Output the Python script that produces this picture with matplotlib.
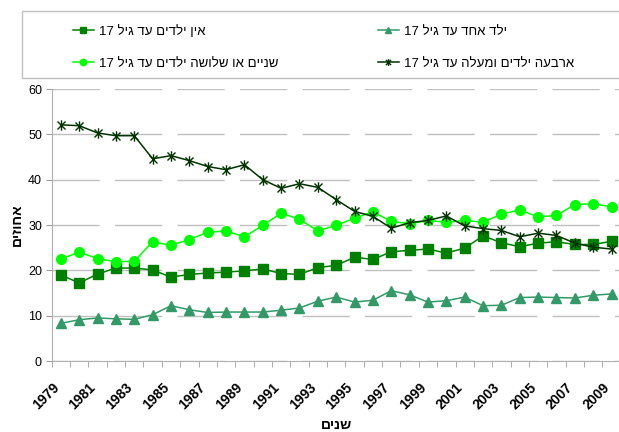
import re
import matplotlib
matplotlib.use('Agg')
import matplotlib.pyplot as plt
import matplotlib.transforms as mtransforms
from matplotlib.path import Path
from matplotlib.patches import Rectangle
from matplotlib.ticker import FixedLocator

plt.rcParams['font.family'] = ['Liberation Sans', 'DejaVu Sans']


def heb(s):
    # matplotlib has no bidi support: flip to visual order, keep numbers readable
    r = s[::-1]
    return re.sub(r'\d+', lambda m: m.group(0)[::-1], r)


years = list(range(1979, 2010))

no_children = [19.0, 17.2, 19.2, 20.5, 20.5, 20.1, 18.5, 19.1, 19.4, 19.6,
               19.9, 20.3, 19.3, 19.1, 20.6, 21.1, 22.9, 22.4, 24.1, 24.4,
               24.7, 23.8, 24.9, 27.6, 26.1, 25.2, 26.0, 26.3, 25.7, 25.7, 26.4]
one_child = [8.3, 9.1, 9.5, 9.3, 9.2, 10.2, 12.2, 11.3, 10.7, 10.8,
             10.8, 10.8, 11.2, 11.7, 13.2, 14.1, 13.0, 13.4, 15.5, 14.6,
             13.0, 13.3, 14.1, 12.2, 12.3, 14.0, 14.1, 14.0, 13.9, 14.5, 14.8]
two_three = [22.5, 24.0, 22.6, 21.9, 22.0, 26.3, 25.5, 26.8, 28.4, 28.7,
             27.4, 29.9, 32.6, 31.3, 28.7, 29.9, 31.5, 32.9, 30.8, 30.3,
             31.0, 30.6, 31.0, 30.6, 32.4, 33.3, 31.8, 32.1, 34.5, 34.7, 34.0]
four_plus = [52.1, 51.9, 50.3, 49.7, 49.7, 44.6, 45.3, 44.2, 42.9, 42.2,
             43.3, 40.0, 38.1, 39.1, 38.3, 35.6, 33.0, 31.9, 29.3, 30.5,
             31.0, 32.0, 29.8, 29.2, 28.8, 27.4, 28.2, 27.7, 26.0, 25.1, 24.7]

labels = {
    'no': heb('אין ילדים עד גיל 17'),
    'one': heb('ילד אחד עד גיל 17'),
    'two': heb('שניים או שלושה ילדים עד גיל 17'),
    'four': heb('ארבעה ילדים ומעלה עד גיל 17'),
}

# Excel style star: X with a vertical bar
star = Path([(-1, -1), (1, 1), (-1, 1), (1, -1), (0, -1.3), (0, 1.3)],
            [Path.MOVETO, Path.LINETO, Path.MOVETO, Path.LINETO, Path.MOVETO, Path.LINETO])

fig = plt.figure(figsize=(6.19, 4.32), dpi=100)
ax = fig.add_axes([51.7 / 619, 1 - 361 / 432, 569 / 619, 272 / 432])

x = list(range(len(years)))
l_no, = ax.plot(x, no_children, '-', marker='s', color='#008000', ms=7, lw=1.1, label=labels['no'])
l_one, = ax.plot(x, one_child, '-', marker='^', color='#339966', ms=7, lw=1.1, label=labels['one'])
l_two, = ax.plot(x, two_three, '-', marker='o', color='#00FF00', ms=7, lw=1.1, label=labels['two'])
l_four, = ax.plot(x, four_plus, '-', marker=star, color='#003300', ms=7.5, mew=1.0, lw=1.1,
                  label=labels['four'])

ax.set_xlim(-0.5, len(years) - 0.5)
ax.set_ylim(0, 60)
ax.set_yticks(range(0, 61, 10))
ax.yaxis.grid(True, color='#C0C0C0', lw=1, dashes=(34, 11))
ax.set_axisbelow(True)

# category ticks between the points, year labels every other year
ax.set_xticks([])
ax.xaxis.set_minor_locator(FixedLocator([i - 0.5 for i in range(len(years) + 1)]))
ax.tick_params(axis='x', which='minor', length=4, color='#A0A0A0')
ax.tick_params(axis='y', length=4, color='#A0A0A0', labelsize=9, pad=3)
shift = mtransforms.ScaledTranslation(-9 / 100, -19 / 100, fig.dpi_scale_trans)
for i in x[::2]:
    ax.text(i, 0, str(years[i]), transform=ax.get_xaxis_transform() + shift,
            rotation=45, ha='right', va='top', rotation_mode='anchor',
            fontweight='bold', fontsize=10)

for s in ['top', 'right']:
    ax.spines[s].set_visible(False)
for s in ['left', 'bottom']:
    ax.spines[s].set_color('#B0B0B0')

ax.set_ylabel(heb('אחוזים'), fontweight='bold', fontsize=10, labelpad=3)
fig.text(336 / 619, 1 - 425 / 432, heb('שנים'), ha='center', va='center',
         fontweight='bold', fontsize=10)

# legend box
fig.patches.append(Rectangle((22 / 619, 1 - 78 / 432), 1.0, 67 / 432, transform=fig.transFigure,
                             fill=False, edgecolor='#C0C0C0', lw=1))
fig.legend(handles=[l_no, l_two, l_one, l_four], ncol=2, frameon=False,
           loc='upper left', bbox_to_anchor=(61 / 619, 1 - 13 / 432),
           fontsize=9.5, handlelength=1.6, handletextpad=0.4,
           columnspacing=7.5, labelspacing=1.5, markerscale=0.65)

fig.savefig('out.png', dpi=100)
